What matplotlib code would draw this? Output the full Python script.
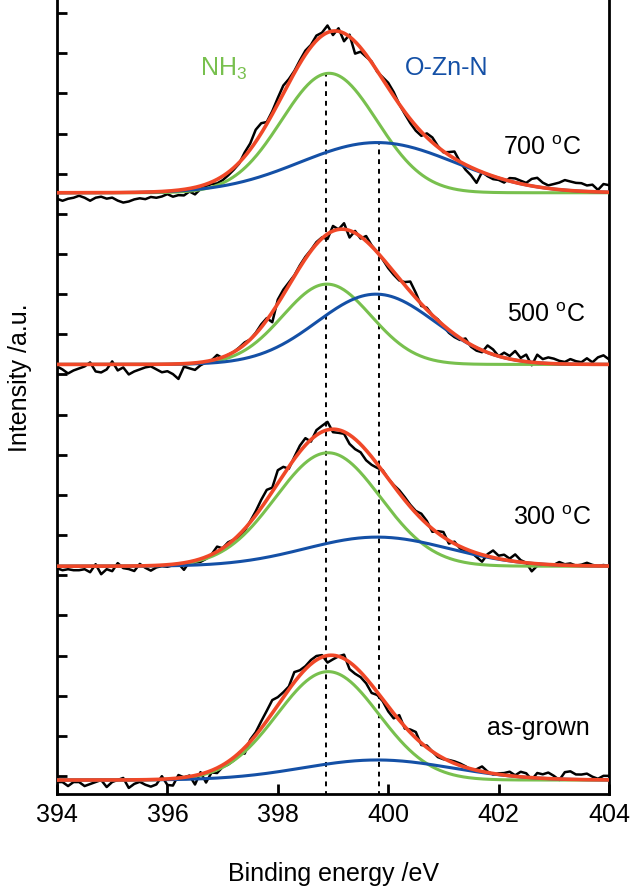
import numpy as np
import matplotlib.pyplot as plt

plt.rcParams['font.family'] = ['Liberation Sans', 'DejaVu Sans']
plt.rcParams['mathtext.fontset'] = 'custom'
plt.rcParams['mathtext.rm'] = 'Liberation Sans'
plt.rcParams['mathtext.it'] = 'Liberation Sans:italic'

# N 1s spectra, stacked (bottom to top)
samples = ['as-grown', '300 $^{\\rm o}$C', '500 $^{\\rm o}$C', '700 $^{\\rm o}$C']
offsets = [-4, 209, 410, 581]

# fitted components: centre (eV), height, FWHM (eV)
nh3_center = [398.91, 398.91, 398.89, 398.93]
nh3_height = [108, 113, 80, 119]
nh3_fwhm = [2.17, 2.24, 1.88, 2.03]
ozn_center = [399.80, 399.80, 399.78, 399.80]
ozn_height = [20, 29, 70, 50]
ozn_fwhm = [3.18, 3.06, 2.52, 3.30]

# measured points every 0.1 eV (394.0 ... 404.0), given as deviation from the fit envelope
dev_asgrown = [-2, -2, -6, -2, -2, -6, -4, -2, 0, -7, -2, 0, 2, -8, -4, -2, -5, -7, -5, 3,
               -6, -7, 3, 0, 1, -9, 2, -10, -2, -5, -2, -3, -3, 0, -6, 2, 3, 7, 10, 13,
               8, 5, 3, 10, 5, 3, 4, 4, 2, -7, -4, 0, 4, -7, -7, -5, -5, -8, -3, -2,
               -5, -5, 5, -2, 3, 6, -2, 2, 0, -2, -1, 1, 2, 2, 1, -1, 1, 5, 1, -1,
               1, 2, 4, 1, 5, 4, -2, 5, 4, 6, 3, -1, 7, 8, 5, 5, 6, 3, 1, 4, 4]
dev_300 = [-2, -4, -3, -4, -4, -3, -6, 2, -8, -3, -5, 3, -2, -3, -5, 2, -2, -5, -2, -1,
           -2, -1, 0, -7, 0, -2, -3, -2, 0, 5, 0, 2, 0, -2, -2, 1, 4, 8, 10, 4,
           13, 8, -2, 2, 6, 7, -2, 5, 6, 8, -3, -3, -2, -9, -10, -8, -10, -8, -4, 1,
           0, 1, 3, 3, 2, 2, 5, 3, -3, 2, 5, -3, 2, -2, -2, -1, -4, -7, 2, 7,
           3, 5, 2, 7, 2, 0, -8, -2, -1, -1, 0, 3, 1, 2, 0, 1, 3, 1, 0, 1, 0]
dev_500 = [-2, -5, -9, -6, -4, -2, 2, -7, -8, -5, 3, -6, -3, -10, -7, -5, -3, -2, -5, -8,
           -7, -10, -15, -3, -5, -7, -3, -1, 0, 4, -1, 0, 0, 1, 2, 0, 1, 3, 2, -10,
           4, 5, 3, 1, 2, 2, 1, 2, 1, -5, 5, 0, 6, -7, 2, -2, 5, 1, 0, -1,
           -3, -3, -2, 3, 10, 5, -2, 2, 0, 1, -1, -3, -3, -2, 3, -2, -3, -2, 7, 5,
           0, 5, 3, 9, 3, 7, -3, 8, 4, 6, 5, 3, 2, 5, 3, 2, 6, 2, 7, 9, 5]
dev_700 = [-6, -8, -6, -5, -3, -5, -8, -5, -4, -6, -5, -8, -10, -9, -7, -6, -7, -5, -6, -5,
           -3, -6, -5, -6, -3, -7, -3, -2, -2, -4, -4, -3, -2, -1, 4, 6, 12, 10, 2, 3,
           6, 8, 4, 2, 3, 4, 2, 5, 3, 7, -4, 3, -8, 2, -12, -4, -2, 1, -1, 2,
           5, 4, 0, -2, -4, -5, -4, 4, 5, 1, -1, 3, 7, 0, -5, -8, -13, 0, -2, -3,
           -2, -3, 3, 4, 3, 2, 7, 9, 5, 3, 5, 7, 10, 9, 8, 8, 6, 7, 2, 8, 7]
deviations = [dev_asgrown, dev_300, dev_500, dev_700]

green = '#78C04E'
blue = '#1450A6'
red = '#F04828'


def gauss(x, c, h, fwhm):
    s = fwhm / 2.3548
    return h * np.exp(-(x - c) ** 2 / (2 * s ** 2))


fig = plt.figure(figsize=(6.3, 8.87), dpi=100)
ax = fig.add_axes([57 / 630, 92 / 887, 552 / 630, 795 / 887])

xf = np.linspace(394, 404, 501)
xd = np.linspace(394, 404, 101)

for i in range(len(samples)):
    b = offsets[i]
    g = gauss(xf, nh3_center[i], nh3_height[i], nh3_fwhm[i])
    o = gauss(xf, ozn_center[i], ozn_height[i], ozn_fwhm[i])
    env_d = b + gauss(xd, nh3_center[i], nh3_height[i], nh3_fwhm[i]) \
        + gauss(xd, ozn_center[i], ozn_height[i], ozn_fwhm[i])
    ax.plot(xd, env_d + np.array(deviations[i]), color='black', lw=1.8, zorder=2)
    ax.plot(xf, b + g, color=green, lw=2.2, zorder=3)
    ax.plot(xf, b + o, color=blue, lw=2.2, zorder=3)
    ax.plot(xf, b + g + o, color=red, lw=2.6, zorder=4)

# peak position markers
top = len(samples) - 1
ax.plot([398.87, 398.87], [-20, offsets[top] + nh3_height[top]], color='black',
        lw=1.4, ls=(0, (2.5, 2.5)), zorder=1)
ax.plot([399.84, 399.84], [-20, offsets[top] + ozn_height[top]], color='black',
        lw=1.4, ls=(0, (2.5, 2.5)), zorder=1)

ax.text(396.59, 698, 'NH$_3$', color=green, fontsize=18, ha='left', va='baseline')
ax.text(400.30, 699, 'O-Zn-N', color=blue, fontsize=18, ha='left', va='baseline')

label_x = [401.79, 402.26, 402.15, 402.08]
label_y = [42, 251, 453, 620]
for i in range(len(samples)):
    ax.text(label_x[i], label_y[i], samples[i], fontsize=18, ha='left', va='baseline')

ax.set_xlim(394, 404)
ax.set_ylim(-17.9, 774)
ax.set_xticks(np.arange(394, 405, 2))
ax.set_yticks(np.arange(0, 761, 40))
ax.set_yticklabels([])
ax.tick_params(axis='x', direction='in', length=7, width=2, labelsize=18, pad=6)
ax.tick_params(axis='y', direction='in', length=7, width=2, right=False)
ax.spines['top'].set_visible(False)
for s in ['left', 'right', 'bottom']:
    ax.spines[s].set_linewidth(2)

ax.set_xlabel('Binding energy /eV', fontsize=18, labelpad=25)
ax.set_ylabel('Intensity /a.u.', fontsize=18)
ax.yaxis.set_label_coords(-0.046, 0.525)

fig.savefig('out.png', dpi=100)
